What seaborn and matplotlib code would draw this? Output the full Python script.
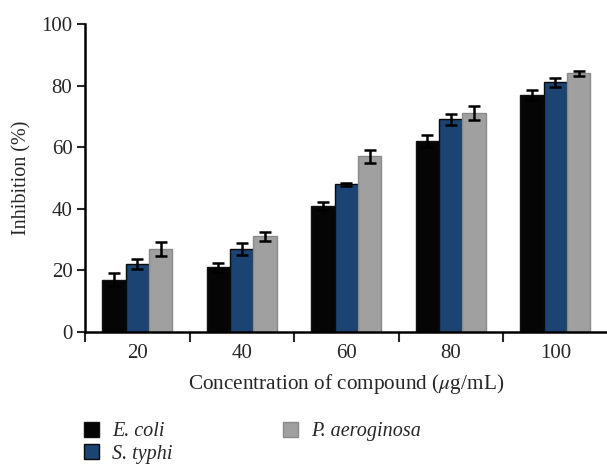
import numpy as np
import pandas as pd
import matplotlib
matplotlib.use("Agg")
import matplotlib.pyplot as plt
import seaborn as sns
from matplotlib.patches import Patch

concentrations = ["20", "40", "60", "80", "100"]
species = ["E. coli", "S. typhi", "P. aeroginosa"]
ecoli = [17, 21, 41, 62, 77]
styphi = [22, 27, 48, 69, 81]
paer = [27, 31, 57, 71, 84]
ecoli_err = [2.0, 1.5, 1.3, 2.0, 1.6]
styphi_err = [1.6, 2.0, 0.5, 1.8, 1.5]
paer_err = [2.2, 1.6, 2.0, 2.3, 0.8]

colors = ["#050505", "#1b4472", "#a0a0a0"]
edges = ["#111111", "#0a0a0a", "#8a8a8a"]

values = [ecoli, styphi, paer]
errs = [ecoli_err, styphi_err, paer_err]
rows = []
for s, vals in zip(species, values):
    for c, v in zip(concentrations, vals):
        rows.append({"conc": c, "species": s, "val": v})
df = pd.DataFrame(rows)

sns.set_style("white")
plt.rcParams['font.family'] = ['Liberation Serif', 'DejaVu Serif']
plt.rcParams['mathtext.fontset'] = 'stix'

FS = 14.5
fig = plt.figure(figsize=(6.07, 4.66), dpi=100)
ax = fig.add_axes([0.140, 0.2876, 0.861, 0.661])

sns.barplot(data=df, x="conc", y="val", hue="species", order=concentrations,
            hue_order=species, palette=colors, width=0.67, ax=ax,
            errorbar=None, saturation=1, legend=False)

for cont, ec, err in zip(ax.containers, edges, errs):
    xs = []
    ys = []
    for p in cont.patches:
        p.set_edgecolor(ec)
        p.set_linewidth(1.0)
        xs.append(p.get_x() + p.get_width() / 2)
        ys.append(p.get_height())
    ax.errorbar(xs, ys, yerr=err, fmt="none", ecolor="black", elinewidth=1.8,
                capsize=4, capthick=1.8, zorder=5)

ax.set_ylim(0, 100)
ax.set_xlim(-0.5, 4.5)
ax.set_yticks([0, 20, 40, 60, 80, 100])
ax.tick_params(axis="y", direction="out", length=6, width=1.5, labelsize=15, left=True, pad=3)
ax.set_xticks(np.arange(-0.5, 4.5, 1.0), minor=True)
ax.tick_params(axis="x", which="major", length=0, labelsize=15, pad=9)
ax.tick_params(axis="x", which="minor", direction="out", length=7, width=1.5, bottom=True)
for sp in ["top", "right"]:
    ax.spines[sp].set_visible(False)
for sp in ["left", "bottom"]:
    ax.spines[sp].set_linewidth(1.8)
    ax.spines[sp].set_color("black")

ax.set_ylabel("Inhibition (%)", fontsize=FS, labelpad=7)
ax.set_xlabel("Concentration of compound ($\\mu$g/mL)", fontsize=15.3, labelpad=6)

handles = [Patch(facecolor=c, edgecolor=e, linewidth=1.0) for c, e in zip(colors, edges)]
leg = fig.legend(handles, species, loc="upper left", bbox_to_anchor=(0.125, 0.112),
                 ncol=2, frameon=False, handlelength=0.75, handleheight=0.75,
                 handletextpad=0.65, columnspacing=5.5, labelspacing=0.15,
                 prop={"family": "Liberation Serif", "style": "italic", "size": FS},
                 borderaxespad=0)

fig.savefig("out.png", dpi=100)
